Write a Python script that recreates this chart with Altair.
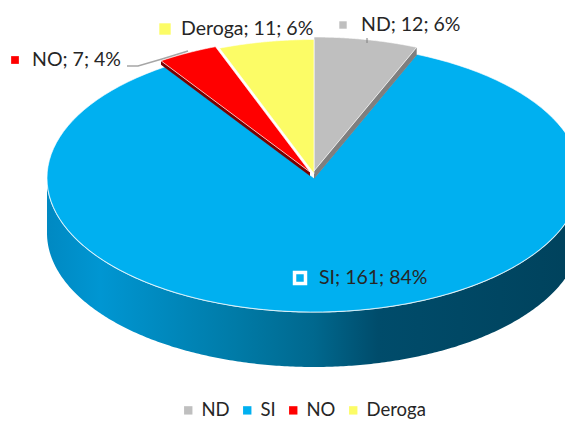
import numpy as np
import pandas as pd
import altair as alt

categories = ["ND", "SI", "NO", "Deroga"]
values = [12, 161, 7, 11]
percents = ["6%", "84%", "4%", "6%"]
colors = ["#BFBFBF", "#00B0F0", "#FF0000", "#FCFC66"]

CX, CY, RX, RY, DEPTH = 314, 178, 267, 134, 55
wedge_dx = [0, 0, -4, 0]
wedge_dy = [-7, 0, -6, -4.5]

label_x = [361, 319, 32, 181]
label_y = [25, 278, 60, 29]
marker_x = [343, 300, 15, 165]
marker_y = [25, 278, 60, 29]
marker_size = [55, 1, 60, 130]

leader_x = [127, 138, 162, 188]
leader_y = [66, 66, 59, 51]
leader2_x = [367, 367]
leader2_y = [38, 43]

x_scale = alt.Scale(domain=[8, 565])
y_scale = alt.Scale(domain=[420, 8])
X = alt.X("x:Q", scale=x_scale, axis=None)
Y = alt.Y("y:Q", scale=y_scale, axis=None)


def ell(t, dx=0, dy=0):
    return CX + dx + RX * np.sin(t), CY + dy - RY * np.cos(t)


total = sum(values)
edges = np.cumsum([0] + values) / total * 2 * np.pi
rows, strips = [], []
for i, c in enumerate(categories):
    ts = np.linspace(edges[i], edges[i + 1], 120)
    ex, ey = ell(ts, wedge_dx[i], wedge_dy[i])
    ax, ay = CX + wedge_dx[i], CY + wedge_dy[i]
    xs = [ax, *ex, ax]
    ys = [ay, *ey, ay]
    rows += [{"cat": c, "x": a, "y": b, "o": k} for k, (a, b) in enumerate(zip(xs, ys))]
wedges = pd.DataFrame(rows)

# Cut faces of the two raised slices
def strip(i, t, col, h):
    ex, ey = ell(t, wedge_dx[i], wedge_dy[i])
    ax, ay = CX + wedge_dx[i], CY + wedge_dy[i]
    pts = [(ax, ay), (ex, ey), (ex, ey + h), (ax, ay + h), (ax, ay)]
    return [{"s": col, "x": a, "y": b, "o": k} for k, (a, b) in enumerate(pts)]

strip_df = pd.DataFrame(strip(0, edges[1], "#7F7F7F", 8) + strip(2, edges[2], "#7A0000", 4))

# Front wall
tf = np.linspace(np.pi / 2, 3 * np.pi / 2, 300)
wx, wy = ell(tf)
wall = pd.DataFrame({"x": wx, "y": wy, "y2": wy + DEPTH}).sort_values("x")

wall_fill = alt.Gradient(
    gradient="linear", x1=0, x2=1, y1=0, y2=0,
    stops=[
        alt.GradientStop(color="#0089C2", offset=0),
        alt.GradientStop(color="#0096D2", offset=0.1),
        alt.GradientStop(color="#007AA6", offset=0.36),
        alt.GradientStop(color="#00688E", offset=0.5),
        alt.GradientStop(color="#004C6B", offset=0.62),
        alt.GradientStop(color="#00425C", offset=1),
    ],
)

wall_layer = alt.Chart(wall).mark_area(color=wall_fill, clip=True, opacity=1).encode(
    x=X, y=Y, y2=alt.Y2("y2")
)
rim = alt.Chart(wall).mark_line(color="#FFFFFF", strokeWidth=1.2, opacity=0.85, clip=True).encode(
    x=X, y=Y, order="x:Q"
)

color_scale = alt.Scale(domain=categories, range=colors)
legend = alt.Legend(
    orient="none", legendX=171, legendY=393, direction="horizontal", title=None,
    symbolType="square", symbolSize=70, symbolStrokeWidth=0, labelFont="Lato",
    labelFontSize=18.5, labelColor="#262626", columnPadding=8, labelOffset=4,
    columns=4, padding=0,
)


def wedge_layer(cats, legend_obj):
    return alt.Chart(wedges[wedges["cat"].isin(cats)]).mark_line(
        stroke="#FFFFFF", strokeWidth=0.8, strokeOpacity=0.8, clip=True
    ).encode(
        x=X, y=Y, order="o:Q",
        fill=alt.Fill("cat:N", scale=color_scale, legend=legend_obj, sort=categories),
        detail="cat:N",
    )


strip_layer = alt.Chart(strip_df).mark_line(strokeWidth=0, clip=True).encode(
    x=X, y=Y, order="o:Q", detail="s:N",
    fill=alt.Fill("s:N", scale=None),
)

labels = pd.DataFrame({
    "t": [f"{c}; {v}; {p}" for c, v, p in zip(categories, values, percents)],
    "x": label_x, "y": label_y,
    "mx": marker_x, "my": marker_y, "c": colors, "ms": marker_size, "cat": categories,
})
text_layer = alt.Chart(labels).mark_text(
    font="Lato", fontSize=19.5, align="left", baseline="middle", color="#262626"
).encode(x=X, y=Y, text="t:N")

markers = alt.Chart(labels[labels["cat"] != "SI"]).mark_point(
    shape="square", filled=True, strokeWidth=0, opacity=1
).encode(
    x=alt.X("mx:Q", scale=x_scale, axis=None),
    y=alt.Y("my:Q", scale=y_scale, axis=None),
    fill=alt.Fill("c:N", scale=None),
    size=alt.Size("ms:Q", scale=None),
)
si_marker = alt.Chart(labels[labels["cat"] == "SI"]).mark_point(
    shape="square", filled=False, stroke="#FFFFFF", strokeWidth=3.5, size=120, opacity=1
).encode(
    x=alt.X("mx:Q", scale=x_scale, axis=None),
    y=alt.Y("my:Q", scale=y_scale, axis=None),
)

lead1 = alt.Chart(pd.DataFrame({"x": leader_x, "y": leader_y, "o": range(4)})).mark_line(
    color="#A6A6A6", strokeWidth=1.5
).encode(x=X, y=Y, order="o:Q")
lead2 = alt.Chart(pd.DataFrame({"x": leader2_x, "y": leader2_y, "o": range(2)})).mark_line(
    color="#7F7F7F", strokeWidth=1
).encode(x=X, y=Y, order="o:Q")

chart = alt.layer(
    wall_layer, rim,
    wedge_layer(["SI"], None),
    strip_layer,
    wedge_layer(categories[:1] + categories[2:], legend),
    lead1, lead2, markers, si_marker, text_layer,
).resolve_scale(fill="independent").properties(
    width=557, height=412, padding=0, autosize=alt.AutoSizeParams(type="none"),
).configure_view(stroke=None)

chart.save("out.html", embed_options={"renderer": "svg", "actions": False})
